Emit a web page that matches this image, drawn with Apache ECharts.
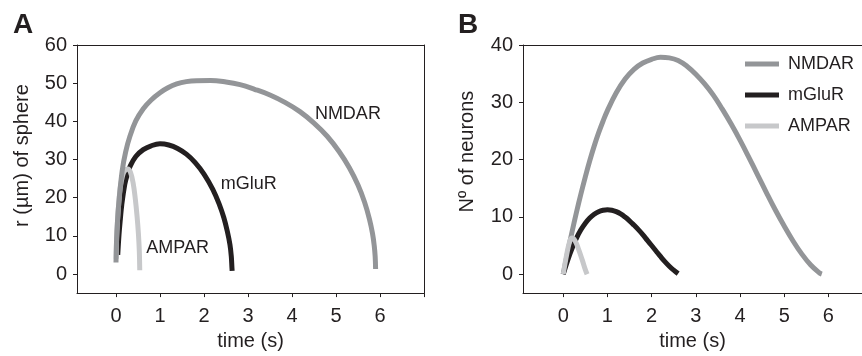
<!DOCTYPE html>
<html>
<head>
<meta charset="utf-8">
<script src="https://cdn.jsdelivr.net/npm/echarts@6/dist/echarts.min.js"></script>
<style>
html,body{margin:0;padding:0;background:#fff;}
#c{width:862px;height:356px;}
</style>
</head>
<body>
<div id="c"></div>
<script>
// ---- Panel A: radius of sphere vs time ----
var timeNmdarA = [0, 0.015, 0.035, 0.06, 0.14, 0.22, 0.32, 0.45, 0.62, 0.8, 1.0, 1.18, 1.38, 1.6, 1.83, 2.15, 2.5, 2.82, 3.15, 3.5, 3.85, 4.18, 4.5, 4.8, 5.07, 5.3, 5.5, 5.65, 5.76, 5.83, 5.87, 5.89, 5.9];
var rNmdarA    = [3, 9.5, 14, 18.1, 27, 32, 36.2, 40.1, 43.3, 45.6, 47.5, 48.8, 49.8, 50.4, 50.65, 50.7, 50.3, 49.6, 48.4, 46.9, 44.9, 42.55, 39.55, 36.1, 32.1, 27.9, 23.3, 18.8, 14.4, 10.6, 7.3, 4.6, 1.3];
var timeMglurA = [0.04, 0.07, 0.1, 0.13, 0.2, 0.26, 0.32, 0.45, 0.62, 0.8, 1.0, 1.2, 1.4, 1.6, 1.8, 2.0, 2.2, 2.35, 2.45, 2.53, 2.59, 2.62, 2.635, 2.64];
var rMglurA    = [5, 10.5, 14.5, 18, 23.5, 26.2, 28.2, 30.8, 32.6, 33.6, 34.1, 33.8, 32.9, 31.4, 29.2, 26.2, 22.2, 18.2, 14.8, 11.2, 7.7, 4.7, 1.7, 0.8];
var timeAmparA = [0.005, 0.015, 0.035, 0.06, 0.095, 0.15, 0.2, 0.27, 0.33, 0.39, 0.44, 0.48, 0.51, 0.53, 0.54];
var rAmparA    = [4, 9.5, 14, 18.1, 22.5, 25.8, 27.1, 27.5, 26.6, 23.8, 19.6, 15, 10.5, 6, 1];

// ---- Panel B: number of neurons vs time ----
var timeNmdarB = [0, 0.1, 0.2, 0.3, 0.4, 0.5, 0.6, 0.7, 0.8, 0.9, 1.0, 1.2, 1.4, 1.6, 1.8, 2.0, 2.2, 2.4, 2.6, 2.8, 3.0, 3.2, 3.4, 3.6, 3.8, 4.0, 4.2, 4.4, 4.6, 4.8, 5.0, 5.2, 5.4, 5.6, 5.8, 5.85];
var nNmdarB    = [0, 3.8, 7.4, 10.8, 14.0, 17.0, 19.8, 22.35, 24.65, 26.7, 28.55, 31.65, 34.05, 35.75, 36.85, 37.5, 37.85, 37.75, 37.3, 36.3, 34.9, 33.2, 31.2, 28.8, 26.2, 23.4, 20.4, 17.3, 14.2, 11.2, 8.4, 5.8, 3.5, 1.6, 0.2, 0];
var timeMglurB = [0, 0.1, 0.2, 0.3, 0.4, 0.5, 0.6, 0.7, 0.8, 0.9, 1.0, 1.1, 1.2, 1.3, 1.4, 1.5, 1.6, 1.7, 1.8, 1.9, 2.0, 2.1, 2.2, 2.3, 2.4, 2.5, 2.6];
var nMglurB    = [0, 2.4, 4.5, 6.3, 7.75, 8.9, 9.8, 10.45, 10.9, 11.15, 11.25, 11.17, 10.92, 10.52, 9.97, 9.32, 8.57, 7.77, 6.9, 5.95, 5.0, 4.05, 3.1, 2.2, 1.4, 0.7, 0.1];
var timeAmparB = [0, 0.08, 0.15, 0.2, 0.27, 0.35, 0.43, 0.5, 0.54];
var nAmparB    = [0, 3.5, 5.8, 6.3, 5.8, 4.3, 2.5, 0.8, 0];

// ---- tick values / labels ----
var xTicksA = [0, 1, 2, 3, 4, 5, 6, 7];
var xLabels = [0, 1, 2, 3, 4, 5, 6];
var yTicksA = [0, 10, 20, 30, 40, 50, 60];
var yTicksB = [0, 10, 20, 30, 40];

// ---- series names and in-plot label anchors (data units, panel A) ----
var seriesNames = ['NMDAR', 'mGluR', 'AMPAR'];
var labelPosA = [[5.27, 42.0], [3.02, 23.6], [1.40, 6.9]];

function pairs(xs, ys) { return xs.map(function (x, i) { return [x, ys[i]]; }); }

var INK = '#231f20';
var colors = ['#939598', '#231f20', '#c7c8ca'];
var FONT = 'Liberation Sans, Arial, sans-serif';

function bottomAxis(gi, min, max, ticks) {
  return {
    type: 'value', gridIndex: gi, position: 'bottom', min: min, max: max,
    name: 'time (s)', nameLocation: 'middle', nameGap: 37,
    nameTextStyle: { fontSize: 20, color: INK, fontFamily: FONT },
    axisLine: { show: true, onZero: false, lineStyle: { color: INK, width: 1 } },
    axisTick: { show: true, length: 4, customValues: ticks, lineStyle: { color: INK } },
    axisLabel: { customValues: xLabels, fontSize: 20, color: INK, fontFamily: FONT, margin: 13 },
    splitLine: { show: false }
  };
}
function frameAxis(gi, pos) {
  return {
    type: 'value', gridIndex: gi, position: pos, min: 0, max: 1,
    axisLine: { show: true, onZero: false, lineStyle: { color: INK, width: 1 } },
    axisTick: { show: false }, axisLabel: { show: false }, splitLine: { show: false }
  };
}
function leftAxis(gi, min, max, ticks, name, gap, shift) {
  return {
    type: 'value', gridIndex: gi, position: 'left', min: min, max: max,
    name: name, nameLocation: 'middle', nameGap: gap, nameRotate: 90,
    nameTextStyle: { fontSize: 20, color: INK, fontFamily: FONT, padding: [0, 0, 0, shift] },
    axisLine: { show: true, onZero: false, lineStyle: { color: INK, width: 1 } },
    axisTick: { show: true, length: 4, customValues: ticks, lineStyle: { color: INK } },
    axisLabel: { customValues: ticks, fontSize: 20, color: INK, fontFamily: FONT, margin: 10 },
    splitLine: { show: false }
  };
}

function lineSeries(name, xi, yi, data, color, width, z, extra) {
  var s = {
    name: name, type: 'line', xAxisIndex: xi, yAxisIndex: yi, data: data,
    showSymbol: false, symbol: 'none', smooth: 0.4, animation: false,
    lineStyle: { color: color, width: width, cap: 'butt', join: 'round' },
    itemStyle: { color: color }, z: z
  };
  if (extra) { for (var k in extra) s[k] = extra[k]; }
  return s;
}
function inlineLabel(idx) {
  return {
    symbol: 'circle', symbolSize: 1, silent: true,
    itemStyle: { color: 'rgba(0,0,0,0)' },
    label: { show: true, position: 'inside', formatter: seriesNames[idx], fontSize: 18, color: INK, fontFamily: FONT },
    data: [{ coord: labelPosA[idx], value: seriesNames[idx] }]
  };
}

var option = {
  backgroundColor: '#ffffff',
  animation: false,
  title: [
    { text: 'A', left: 8, top: 6, textStyle: { fontSize: 28, fontWeight: 'bold', color: INK, fontFamily: FONT } },
    { text: 'B', left: 453, top: 6, textStyle: { fontSize: 28, fontWeight: 'bold', color: INK, fontFamily: FONT } }
  ],
  legend: {
    data: seriesNames.map(function (n) { return { name: n }; }),
    icon: 'rect',
    orient: 'vertical', left: 740, top: 50, itemWidth: 34, itemHeight: 5, itemGap: 13,
    textStyle: { fontSize: 18, color: INK, fontFamily: FONT, padding: [0, 0, 0, 4] },
    selectedMode: false
  },
  grid: [
    { left: 77, top: 45, width: 347, height: 251 },
    { left: 523, top: 45, right: 0, height: 251 }
  ],
  xAxis: [
    bottomAxis(0, -0.886, 7.0, xTicksA),
    frameAxis(0, 'top'),
    bottomAxis(1, -0.91, 6.76, xLabels),
    frameAxis(1, 'top')
  ],
  yAxis: [
    leftAxis(0, -5, 60, yTicksA, 'r (µm) of sphere', 45, 27),
    frameAxis(0, 'right'),
    leftAxis(1, -3.3, 40, yTicksB, 'Nº of neurons', 46, 35)
  ],
  series: [
    lineSeries('mGluR', 0, 0, pairs(timeMglurA, rMglurA), colors[1], 5, 2, { markPoint: inlineLabel(1) }),
    lineSeries('AMPAR', 0, 0, pairs(timeAmparA, rAmparA), colors[2], 5, 3, { markPoint: inlineLabel(2) }),
    lineSeries('NMDAR', 0, 0, pairs(timeNmdarA, rNmdarA), colors[0], 5, 4, { markPoint: inlineLabel(0) }),
    lineSeries('NMDAR', 2, 2, pairs(timeNmdarB, nNmdarB), colors[0], 5, 2),
    lineSeries('mGluR', 2, 2, pairs(timeMglurB, nMglurB), colors[1], 5, 3),
    lineSeries('AMPAR', 2, 2, pairs(timeAmparB, nAmparB), colors[2], 5, 4)
  ]
};

var chart = echarts.init(document.getElementById('c'), null, { renderer: 'canvas' });
chart.setOption(option);
</script>
</body>
</html>
